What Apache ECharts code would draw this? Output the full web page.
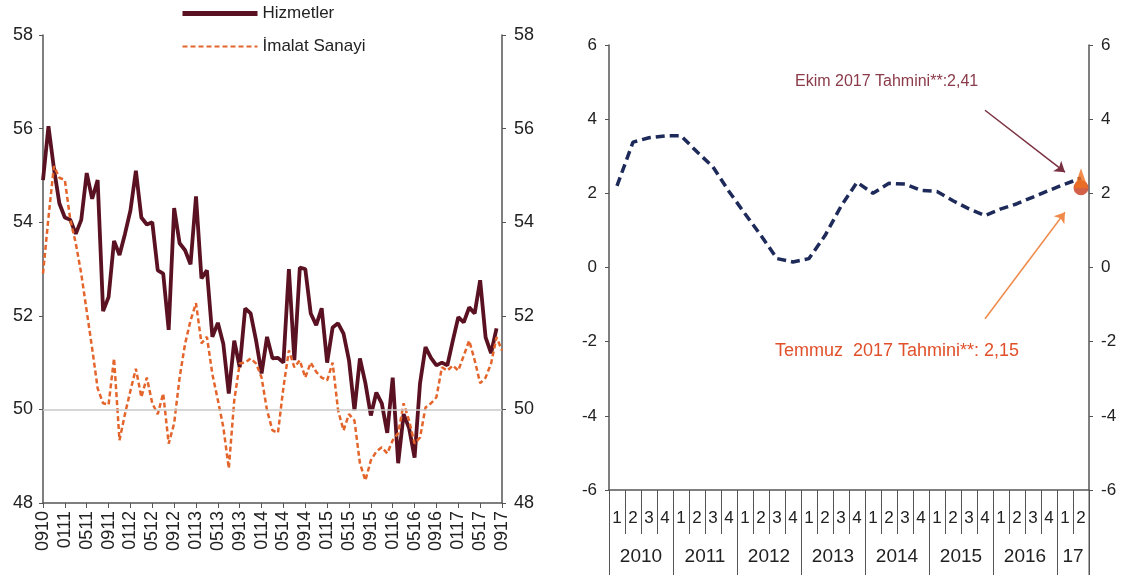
<!DOCTYPE html>
<html>
<head>
<meta charset="utf-8">
<script src="https://cdn.jsdelivr.net/npm/echarts@6/dist/echarts.min.js"></script>
<style>
html, body { margin: 0; padding: 0; background: #fff; }
#grafik { width: 1121px; height: 578px; }
</style>
</head>
<body>
<div id="grafik"></div>
<script>
// sol panel: aylık PMI, Eylül 2010 - Eylül 2017
var ilkAy = 9, ilkYil = 10, aySayisi = 85;
var aylar = [];
for (var i = 0; i < aySayisi; i++) {
    var m = (ilkAy - 1 + i) % 12 + 1;
    var y = ilkYil + Math.floor((ilkAy - 1 + i) / 12);
    aylar.push((m < 10 ? '0' : '') + m + (y < 10 ? '0' : '') + y);
}

var hizmetler = [
    54.9, 56.05, 55.15, 54.4, 54.1, 54.05, 53.75, 54.05, 55.05, 54.5,
    54.9, 52.1, 52.4, 53.6, 53.3, 53.75, 54.25, 55.1, 54.1, 53.95,
    54.0, 52.97, 52.9, 51.7, 54.3, 53.55, 53.4, 53.1, 54.55, 52.8,
    52.97, 51.55, 51.85, 51.4, 50.34, 51.47, 50.9, 52.16, 52.05, 51.47,
    50.77, 51.55, 51.09, 51.1, 51.0, 53.0, 51.05, 53.03, 53.0, 52.05,
    51.8, 52.16, 51.0, 51.75, 51.84, 51.62, 51.05, 49.98, 51.09, 50.56,
    49.87, 50.36, 50.13, 49.5, 50.68, 48.85, 49.9, 49.6, 48.97, 50.56,
    51.33, 51.1, 50.94, 51.0, 50.94, 51.47, 51.97, 51.86, 52.18, 52.05,
    52.76, 51.54, 51.2, 51.73, null
];

var imalat = [
    52.9, 54.1, 55.2, 54.95, 54.9, 54.05, 53.55, 52.9, 52.1, 51.3,
    50.45, 50.13, 50.1, 51.09, 49.34, 49.9, 50.4, 50.87, 50.26, 50.68,
    50.13, 49.9, 50.34, 49.27, 49.7, 50.68, 51.4, 51.9, 52.27, 51.41,
    51.55, 50.75, 50.2, 49.62, 48.74, 50.19, 50.98, 51.0, 51.09, 50.98,
    50.68, 49.98, 49.55, 49.5, 50.47, 51.26, 50.9, 51.05, 50.68, 51.0,
    50.8, 50.68, 50.62, 51.0, 49.98, 49.55, 49.9, 49.76, 48.85, 48.48,
    48.91, 49.1, 49.19, 49.06, 49.34, 49.49, 50.13, 49.76, 49.27, 49.4,
    50.04, 50.13, 50.26, 50.9, 50.83, 50.94, 50.83, 51.15, 51.47, 51.05,
    50.56, 50.68, 50.98, 51.54, 51.26
];

// sağ panel: çeyreklik büyüme
var yillar = [2010, 2011, 2012, 2013, 2014, 2015, 2016, 2017];
var ceyrekler = [];
yillar.forEach(function (yil) {
    var n = yil === 2017 ? 2 : 4;
    for (var q = 1; q <= n; q++) ceyrekler.push(yil + 'Q' + q);
});

var buyume = [
    2.2, 3.38, 3.5, 3.55,
    3.55, 3.12, 2.71, 2.05,
    1.45, 0.86, 0.24, 0.15,
    0.24, 0.86, 1.65, 2.3,
    2.0, 2.27, 2.25, 2.08,
    2.05, 1.8, 1.58, 1.4,
    1.58, 1.72, 1.9, 2.08,
    2.25, 2.41
];

var tahminEkim = 2.41;
var tahminTemmuz = 2.15;
// ok işaretleri: [başlangıç çeyrek, değer, bitiş çeyrek, değer]
var okEkim = [23, 4.24, 28, 2.57];
var okTemmuz = [23, -1.38, 28, 1.49];

var yaziFont = "'Liberation Sans', Arial, sans-serif";
var solGrid = { left: 43, top: 35, width: 459, height: 468 };
var sagGrid = { left: 609, top: 45, width: 480, height: 445 };
var yilCizgiBoyu = 85;

var myChart = echarts.init(document.getElementById('grafik'));

var option = {
    backgroundColor: '#fff',
    animation: false,
    legend: {
        orient: 'vertical',
        left: 180,
        top: 5,
        padding: 0,
        itemWidth: 75,
        itemHeight: 14,
        itemGap: 16,
        itemStyle: { opacity: 0 },
        textStyle: { fontFamily: yaziFont, fontSize: 17, color: '#222' },
        data: [
            { name: 'Hizmetler', lineStyle: { width: 5 } },
            { name: 'İmalat Sanayi', lineStyle: { width: 2 } }
        ]
    },
    grid: [solGrid, sagGrid],
    xAxis: [
        {
            gridIndex: 0,
            type: 'category',
            data: aylar,
            boundaryGap: false,
            axisLine: { onZero: false, lineStyle: { color: '#555', width: 1.5 } },
            axisTick: { show: true, interval: 3, length: 5, lineStyle: { color: '#555' } },
            axisLabel: {
                interval: 3, rotate: 90, margin: 8,
                fontFamily: yaziFont, fontSize: 18, color: '#222'
            },
            splitLine: { show: false }
        },
        {
            gridIndex: 1,
            type: 'category',
            data: ceyrekler,
            boundaryGap: true,
            axisLine: { onZero: false, lineStyle: { color: '#555', width: 1.5 } },
            axisTick: { show: true, interval: 0, length: 44, lineStyle: { color: '#555' } },
            axisLabel: {
                interval: 0, margin: 20,
                fontFamily: yaziFont, fontSize: 17, color: '#222',
                formatter: function (v) { return v.slice(-1); }
            },
            splitLine: { show: false }
        },
        {
            gridIndex: 1,
            type: 'category',
            data: ceyrekler,
            boundaryGap: true,
            position: 'bottom',
            axisLine: { show: false, onZero: false },
            axisTick: {
                show: true, length: yilCizgiBoyu, lineStyle: { color: '#555' },
                interval: function (idx) { return idx % 4 === 0; }
            },
            axisLabel: {
                margin: 57, padding: [0, 16, 0, 0],
                fontFamily: yaziFont, fontSize: 19, color: '#222',
                interval: function (idx) { return idx % 4 === 2 || idx === 29; },
                formatter: function (v) {
                    var yil = v.slice(0, 4);
                    return yil === '2017' ? '17' : yil;
                }
            },
            splitLine: { show: false }
        }
    ],
    yAxis: [
        {
            gridIndex: 0, type: 'value', min: 48, max: 58, interval: 2,
            axisLine: { show: true, lineStyle: { color: '#555', width: 1.5 } },
            axisTick: { show: true, length: 4, lineStyle: { color: '#555' } },
            axisLabel: { margin: 10, fontFamily: yaziFont, fontSize: 18, color: '#222' },
            splitLine: { show: false }
        },
        {
            gridIndex: 0, type: 'value', min: 48, max: 58, interval: 2, position: 'right',
            axisLine: { show: true, lineStyle: { color: '#555', width: 1.5 } },
            axisTick: { show: true, length: 4, lineStyle: { color: '#555' } },
            axisLabel: { margin: 12, fontFamily: yaziFont, fontSize: 18, color: '#222' },
            splitLine: { show: false }
        },
        {
            gridIndex: 1, type: 'value', min: -6, max: 6, interval: 2,
            axisLine: { show: true, lineStyle: { color: '#555', width: 1.5 } },
            axisTick: { show: true, length: 4, lineStyle: { color: '#555' } },
            axisLabel: { margin: 12, fontFamily: yaziFont, fontSize: 17, color: '#222' },
            splitLine: { show: false }
        },
        {
            gridIndex: 1, type: 'value', min: -6, max: 6, interval: 2, position: 'right',
            axisLine: { show: true, lineStyle: { color: '#555', width: 1.5 } },
            axisTick: { show: true, length: 4, lineStyle: { color: '#555' } },
            axisLabel: { margin: 12, fontFamily: yaziFont, fontSize: 17, color: '#222' },
            splitLine: { show: false }
        }
    ],
    series: [
        {
            name: 'Hizmetler',
            type: 'line',
            xAxisIndex: 0, yAxisIndex: 0,
            data: hizmetler,
            symbol: 'none',
            z: 3,
            lineStyle: { color: '#5a1222', width: 3.8 },
            itemStyle: { color: '#5a1222' },
            markLine: {
                silent: true, symbol: 'none',
                label: { show: false },
                lineStyle: { color: '#c8c8c8', width: 1.5, type: 'solid' },
                data: [{ yAxis: 50 }]
            }
        },
        {
            name: 'İmalat Sanayi',
            type: 'line',
            xAxisIndex: 0, yAxisIndex: 0,
            data: imalat,
            symbol: 'none',
            z: 4,
            lineStyle: { color: '#e4652c', width: 2.5, type: [5, 3] },
            itemStyle: { color: '#e4652c' }
        },
        {
            name: 'Büyüme',
            type: 'line',
            xAxisIndex: 1, yAxisIndex: 2,
            data: buyume,
            symbol: 'none',
            lineStyle: { color: '#1e2b5a', width: 3.5, type: [9, 5] },
            markLine: {
                silent: true,
                symbol: ['none', 'arrow'],
                symbolSize: 10,
                label: { show: false },
                data: [
                    [{ yAxis: 0, symbol: 'none', lineStyle: { color: '#c8c8c8', width: 2, type: 'solid' } },
                     { yAxis: 0, symbol: 'none' }],
                    [{ coord: [okEkim[0], okEkim[1]], lineStyle: { color: '#7a3040', width: 1.5, type: 'solid' } },
                     { coord: [okEkim[2], okEkim[3]] }],
                    [{ coord: [okTemmuz[0], okTemmuz[1]], lineStyle: { color: '#f08a4a', width: 1.5, type: 'solid' } },
                     { coord: [okTemmuz[2], okTemmuz[3]] }]
                ]
            }
        },
        {
            name: 'Temmuz Tahmini',
            type: 'scatter',
            xAxisIndex: 1, yAxisIndex: 2,
            symbol: 'circle', symbolSize: 15,
            z: 5,
            itemStyle: { color: '#c8381a' },
            data: [['2017Q2', tahminTemmuz]]
        },
        {
            name: 'Ekim Tahmini',
            type: 'scatter',
            xAxisIndex: 1, yAxisIndex: 2,
            symbol: 'triangle', symbolSize: [14, 20],
            z: 6,
            itemStyle: { color: '#f0701e' },
            data: [['2017Q2', tahminEkim]]
        }
    ],
    graphic: [
        {
            // sağ panelde son yıl ayracı (eksen sonu)
            type: 'line',
            shape: {
                x1: sagGrid.left + sagGrid.width, y1: sagGrid.top + sagGrid.height,
                x2: sagGrid.left + sagGrid.width, y2: sagGrid.top + sagGrid.height + yilCizgiBoyu
            },
            style: { stroke: '#555', lineWidth: 1 }
        },
        {
            type: 'text', left: 795, top: 74,
            style: { text: 'Ekim 2017 Tahmini**:2,41', fill: '#8a3a48', font: '16px ' + yaziFont }
        },
        {
            type: 'text', left: 775, top: 342,
            style: { text: 'Temmuz  2017 Tahmini**: 2,15', fill: '#e0502a', font: '18px ' + yaziFont }
        }
    ]
};

if (option && typeof option === 'object') {
    myChart.setOption(option, true);
}
</script>
</body>
</html>
